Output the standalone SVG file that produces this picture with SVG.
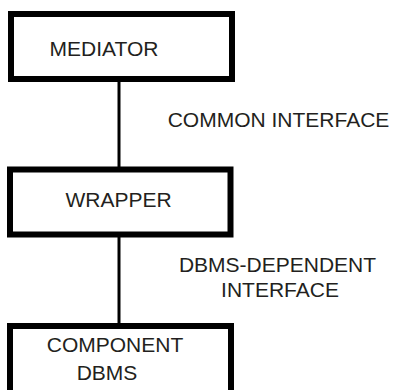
<svg xmlns="http://www.w3.org/2000/svg" width="393" height="390" viewBox="0 0 393 390">
<style>
.box{fill:#fff;stroke:#000;stroke-width:6}
.lbl{font-family:"Liberation Sans",Arial,sans-serif;font-size:21px;fill:#231f20}
.conn{stroke:#000;stroke-width:3;fill:none}
</style>
<rect width="393" height="390" fill="#fff"/>
<g id="connectors">
<line class="conn" x1="119" y1="79" x2="119" y2="170"/>
<line class="conn" x1="119" y1="234" x2="119" y2="326"/>
</g>
<g id="mediator">
<rect class="box" x="11" y="14" width="221" height="65"/>
<text class="lbl" x="104" y="56" text-anchor="middle">MEDIATOR</text>
</g>
<g id="wrapper">
<rect class="box" x="10" y="169.5" width="220.5" height="65"/>
<text class="lbl" x="118.5" y="207" text-anchor="middle">WRAPPER</text>
</g>
<g id="component">
<rect class="box" x="10" y="326" width="221" height="80"/>
<text class="lbl" x="115" y="352" text-anchor="middle">COMPONENT</text>
<text class="lbl" x="107" y="380" text-anchor="middle">DBMS</text>
</g>
<g id="labels">
<text class="lbl" x="278.5" y="127" text-anchor="middle">COMMON INTERFACE</text>
<text class="lbl" x="277.5" y="272" text-anchor="middle">DBMS-DEPENDENT</text>
<text class="lbl" x="280" y="297" text-anchor="middle">INTERFACE</text>
</g>
</svg>
